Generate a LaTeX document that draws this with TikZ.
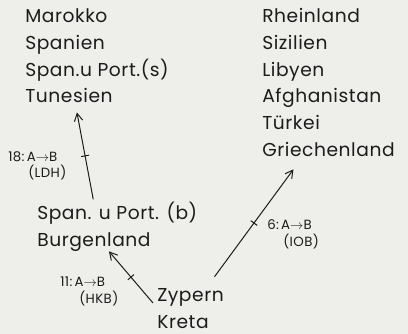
\documentclass[tikz,border=0pt]{standalone}
\usepackage{fontspec}
\setmainfont{Poppins}[LetterSpace=3]
\usepackage{tikz}
\usetikzlibrary{arrows.meta}
\definecolor{PaperGrey}{HTML}{EEEEEA}
\definecolor{InkDark}{HTML}{1C1C1C}
\tikzset{
  region/.style={anchor=base west,inner sep=0pt,text=InkDark,font=\fontsize{14}{16}\selectfont},
  routelabel/.style={anchor=base west,inner sep=0pt,text=InkDark,font=\fontsize{10}{12}\selectfont},
  routearrow/.style={-{Straight Barb[length=2mm,width=2.2mm]},line width=0.75pt,draw=InkDark},
  tickmark/.style={draw=InkDark,line width=0.75pt,inner sep=0pt,minimum width=0pt,minimum height=6pt,sloped}
}
\begin{document}
\begin{tikzpicture}[x=0.75pt,y=-0.75pt]
  \fill[PaperGrey] (0,0) rectangle (408,334);
  \useasboundingbox (0,0) rectangle (408,334);

  % Upper left group.
  \node[region] (marokko) at (25,23) {Marokko};
  \node[region] (spanien) at (25,49.7) {Spanien};
  \node[region] (spans) at (25,76.4) {Span.u Port.(s)};
  \node[region] (tunesien) at (25,103) {Tunesien};

  % Upper right group.
  \node[region] (rheinland) at (262,23) {Rheinland};
  \node[region] (sizilien) at (262,49.7) {Sizilien};
  \node[region] (libyen) at (262,76.4) {Libyen};
  \node[region] (afghanistan) at (262,103) {Afghanistan};
  \node[region] (tuerkei) at (262,129.7) {Türkei};
  \node[region] (griechenland) at (262,156.4) {Griechenland};

  % Middle and bottom groups.
  \node[region] (spanb) at (37,220) {Span. u Port. (b)};
  \node[region] (burgenland) at (37,247) {Burgenland};
  \node[region] (zypern) at (157,302) {Zypern};
  \node[region] (kreta) at (157,329) {Kreta};

  % Transitions.
  \draw[routearrow] ([shift={(-24,-3)}]spanb.north) -- ([shift={(8,9)}]tunesien.south)
    node[tickmark,pos=.5] (tick18) {};
  \draw[routearrow] ([shift={(-4,1)}]zypern.base west) -- ([shift={(15,-1)}]burgenland.south)
    node[tickmark,pos=.5] (tick11) {};
  \draw[routearrow] ([shift={(24,-12)}]zypern.north) -- ([shift={(-35,12.5)}]griechenland.south)
    node[tickmark,pos=.5] (tick6) {};

  \node[routelabel] (lab18) at (8,162) {18:\,A$\rightarrow$B};
  \node[routelabel] (lab18b) at (28,178) {(LDH)};
  \node[routelabel] (lab11) at (60,287) {11:\,A$\rightarrow$B};
  \node[routelabel] (lab11b) at (79,304) {(HKB)};
  \node[routelabel] (lab6) at (267,230) {6:\,A$\rightarrow$B};
  \node[routelabel] (lab6b) at (283,247) {(IOB)};
\end{tikzpicture}
\end{document}
